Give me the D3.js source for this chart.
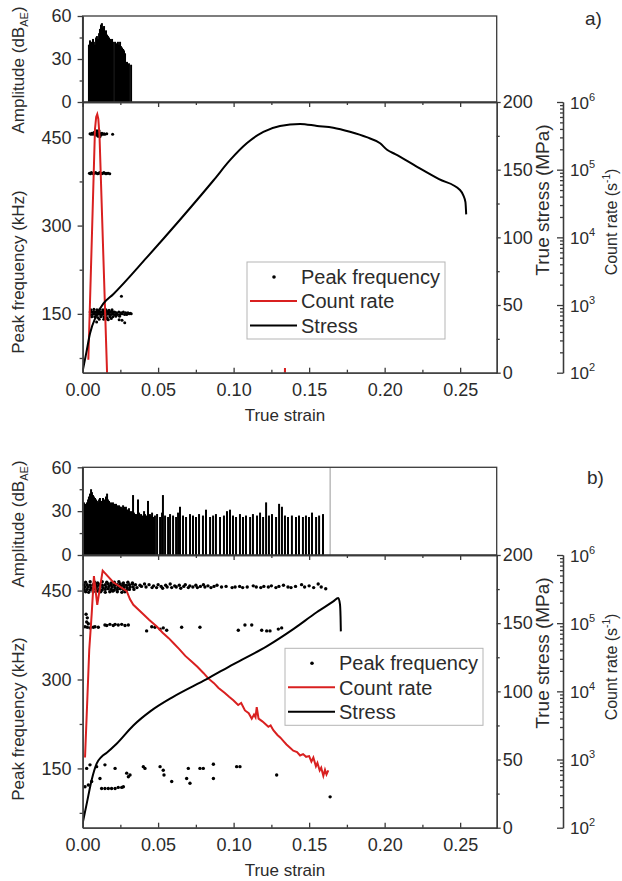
<!DOCTYPE html>
<html>
<head>
<meta charset="utf-8">
<script src="https://cdn.jsdelivr.net/npm/d3@7"></script>
<style>
body { margin: 0; background: #fff; }
</style>
</head>
<body>
<div id="chart"></div>
<script>
// Axis ticks
var strainTicks = [0, 0.05, 0.10, 0.15, 0.20, 0.25];
var strainMinor = [0.025, 0.075, 0.125, 0.175, 0.225];
var freqTicks = [150, 300, 450];
var freqMinor = [75, 225, 375];
var stressTicks = [0, 50, 100, 150, 200];
var stressMinor = [25, 75, 125, 175];
var ampTicks = [0, 30, 60];
var ampMinor = [15, 45];
var countTicks = [1e2, 1e3, 1e4, 1e5, 1e6];
var legendLabels = ["Peak frequency", "Count rate", "Stress"];

// a) amplitude hits [true strain, dB_AE]
var ampA = [
  [0.0042, 40], [0.0049, 43], [0.0056, 42], [0.0062, 41], [0.0069, 44], [0.0075, 42],
  [0.0082, 40], [0.0089, 45], [0.0095, 46], [0.0102, 44], [0.0109, 48], [0.0115, 51],
  [0.0122, 54], [0.0128, 55], [0.0135, 52], [0.0142, 53], [0.0148, 49], [0.0155, 50],
  [0.0162, 47], [0.0168, 46], [0.0175, 45], [0.0182, 44], [0.0188, 43], [0.0195, 44],
  [0.0201, 42], [0.0215, 42], [0.0221, 41], [0.0228, 40], [0.0234, 42], [0.0241, 40],
  [0.0248, 42], [0.0254, 39], [0.0261, 38], [0.0268, 37], [0.0274, 36], [0.0281, 34],
  [0.0294, 28], [0.0307, 27], [0.0321, 26]
];

// a) peak frequency [true strain, kHz]
var freqA = [
  [0.0049, 456], [0.0056, 455], [0.0062, 457], [0.0069, 455], [0.0075, 458], [0.0082, 456], [0.0089, 454],
  [0.0095, 457], [0.0095, 461], [0.0102, 455], [0.0102, 452], [0.0109, 458], [0.0109, 461], [0.0115, 456],
  [0.0115, 451], [0.0122, 454], [0.0128, 457], [0.0135, 455], [0.0142, 456], [0.0148, 455], [0.0160, 456], [0.0199, 455],
  [0.0045, 389], [0.0052, 388], [0.0058, 390], [0.0065, 389], [0.0072, 388], [0.0079, 389], [0.0086, 390],
  [0.0093, 389], [0.0100, 388], [0.0107, 389], [0.0113, 390], [0.0120, 389], [0.0127, 388], [0.0134, 389],
  [0.0141, 390], [0.0148, 389], [0.0155, 388], [0.0162, 389], [0.0170, 389], [0.0180, 388],
  [0.0055, 157], [0.0075, 158], [0.0095, 157], [0.0115, 158], [0.0135, 157], [0.0155, 157], [0.0175, 156], [0.0195, 157],
  [0.0050, 153], [0.0062, 153], [0.0072, 154], [0.0082, 153], [0.0092, 153], [0.0102, 154], [0.0112, 153], [0.0122, 153],
  [0.0132, 154], [0.0142, 153], [0.0152, 153], [0.0162, 154], [0.0172, 153], [0.0182, 153], [0.0192, 154], [0.0202, 153],
  [0.0212, 153], [0.0225, 152], [0.0240, 153], [0.0255, 152], [0.0270, 153], [0.0285, 152], [0.0300, 152], [0.0315, 151],
  [0.0052, 149], [0.0065, 149], [0.0077, 150], [0.0088, 149], [0.0098, 149], [0.0108, 150], [0.0118, 149], [0.0128, 149],
  [0.0138, 150], [0.0148, 149], [0.0158, 149], [0.0168, 150], [0.0178, 149], [0.0188, 149], [0.0198, 150], [0.0208, 149],
  [0.0218, 149], [0.0232, 149], [0.0248, 149], [0.0262, 150], [0.0278, 149], [0.0292, 149], [0.0308, 150], [0.0322, 150],
  [0.0060, 145], [0.0080, 145], [0.0100, 144], [0.0120, 145], [0.0140, 145], [0.0160, 144], [0.0180, 145], [0.0200, 145],
  [0.0220, 146], [0.0245, 146], [0.0110, 141], [0.0140, 141], [0.0165, 141], [0.0190, 142],
  [0.0257, 180], [0.0093, 136], [0.0242, 140], [0.0261, 139], [0.0279, 135], [0.0170, 140]
];

// a) log10 of count rate (s^-1), null = gap
var countA = [
  [0.0038, 2.19], [0.0082, 5.6], [0.0090, 5.78], [0.0097, 5.82], [0.0104, 5.75], [0.0112, 5.5],
  [0.0162, 2.0], [0.0166, 1.7], null, [0.1338, 1.8], [0.1340, 2.07], [0.1342, 1.8]
];

// a) true stress (MPa)
var stressA = [
  [0, 1], [0.0025, 15], [0.0049, 29], [0.0090, 42], [0.0137, 51], [0.0203, 58], [0.0424, 85],
  [0.0645, 113], [0.0866, 142], [0.0976, 157], [0.1087, 169.5], [0.1197, 178], [0.1307, 182.3],
  [0.1440, 183.8], [0.1553, 182.3], [0.1660, 181], [0.1770, 178], [0.1881, 174], [0.1970, 169.5],
  [0.2018, 164.5], [0.2070, 161.5], [0.2212, 152.3], [0.2360, 143], [0.2499, 135], [0.2521, 131],
  [0.2535, 126], [0.2540, 117]
];

// b) amplitude hits [true strain, dB_AE]
var ampB = [
  [0.0009, 36], [0.0016, 35], [0.0023, 34], [0.0029, 36], [0.0036, 38], [0.0042, 40], [0.0049, 42],
  [0.0056, 45], [0.0062, 43], [0.0069, 41], [0.0075, 40], [0.0082, 39], [0.0089, 38], [0.0095, 37],
  [0.0102, 36], [0.0109, 38], [0.0115, 39], [0.0122, 37], [0.0128, 36], [0.0135, 39], [0.0142, 38],
  [0.0148, 37], [0.0155, 40], [0.0162, 42], [0.0168, 38], [0.0175, 37], [0.0182, 35], [0.0188, 36],
  [0.0195, 35], [0.0201, 36], [0.0208, 35], [0.0215, 34], [0.0221, 35], [0.0228, 34], [0.0234, 33],
  [0.0241, 34], [0.0248, 33], [0.0254, 33], [0.0261, 32], [0.0268, 34], [0.0274, 33], [0.0281, 32],
  [0.0287, 33], [0.0294, 31], [0.0301, 31], [0.0307, 32], [0.0314, 30], [0.0321, 29], [0.0327, 30],
  [0.0334, 41], [0.0340, 29], [0.0347, 28],
  [0.0354, 28], [0.0360, 27], [0.0367, 38], [0.0374, 29], [0.0380, 27], [0.0387, 28], [0.0393, 26],
  [0.0400, 27], [0.0407, 30], [0.0413, 28], [0.0420, 27], [0.0426, 26], [0.0433, 37], [0.0440, 27],
  [0.0446, 28], [0.0453, 27], [0.0460, 29], [0.0466, 26],
  [0.0479, 27], [0.0493, 28], [0.0513, 26], [0.0526, 29], [0.0532, 41], [0.0546, 27], [0.0566, 26],
  [0.0579, 28], [0.0599, 27], [0.0619, 26], [0.0632, 29], [0.0645, 33], [0.0665, 27], [0.0685, 26],
  [0.0711, 28], [0.0731, 27], [0.0751, 26], [0.0771, 28], [0.0797, 27], [0.0817, 31], [0.0844, 26],
  [0.0864, 27], [0.0883, 28], [0.0910, 26], [0.0936, 27], [0.0956, 30], [0.0976, 31], [0.0996, 27],
  [0.1016, 26], [0.1042, 28], [0.1062, 26], [0.1082, 27], [0.1109, 26], [0.1128, 28], [0.1155, 27],
  [0.1175, 29], [0.1195, 26], [0.1215, 36], [0.1234, 27], [0.1254, 28], [0.1281, 26], [0.1301, 35],
  [0.1320, 33], [0.1340, 27], [0.1360, 26], [0.1386, 27], [0.1413, 26], [0.1433, 27], [0.1459, 26],
  [0.1479, 27], [0.1499, 26], [0.1519, 29], [0.1546, 26], [0.1566, 27], [0.1592, 28]
];
var fractureB = 0.1639;

// b) peak frequency [true strain, kHz]
var freqB = [
  [0.002, 464], [0.005, 465], [0.008, 464], [0.010, 463], [0.013, 465], [0.016, 464], [0.019, 463],
  [0.021, 464], [0.024, 465], [0.027, 463], [0.030, 464], [0.033, 463],
  [0.001, 460], [0.003, 460], [0.005, 459], [0.007, 460], [0.009, 461], [0.011, 460], [0.013, 459],
  [0.015, 460], [0.017, 461], [0.019, 460], [0.021, 459], [0.023, 460], [0.025, 461], [0.027, 460],
  [0.029, 459], [0.031, 460], [0.033, 461], [0.035, 460], [0.038, 459], [0.041, 461], [0.044, 460],
  [0.0015, 456], [0.0035, 456], [0.0055, 455], [0.0075, 456], [0.0095, 457], [0.0115, 456], [0.0135, 455],
  [0.0155, 456], [0.0175, 457], [0.0195, 456], [0.0215, 455], [0.0235, 456], [0.0255, 457], [0.0275, 456],
  [0.0295, 455], [0.0315, 456], [0.0335, 456], [0.036, 455], [0.039, 457], [0.042, 456], [0.046, 455],
  [0.001, 452], [0.003, 452], [0.005, 451], [0.007, 452], [0.009, 453], [0.011, 452], [0.013, 451],
  [0.015, 452], [0.017, 453], [0.019, 452], [0.021, 451], [0.023, 452], [0.025, 453], [0.027, 452],
  [0.029, 451], [0.031, 452], [0.034, 452],
  [0.002, 448], [0.004, 447], [0.007, 448], [0.010, 449], [0.012, 448], [0.015, 447], [0.018, 448],
  [0.020, 449], [0.023, 448], [0.026, 447], [0.028, 448],
  [0.047, 458], [0.049, 455], [0.050, 460], [0.052, 457], [0.053, 454], [0.055, 459], [0.056, 456],
  [0.058, 461], [0.059, 455], [0.061, 458], [0.062, 456], [0.064, 459], [0.065, 454], [0.067, 457],
  [0.068, 460], [0.070, 455], [0.071, 458], [0.073, 456], [0.075, 459], [0.076, 455], [0.078, 457],
  [0.080, 460], [0.081, 456], [0.083, 458], [0.085, 455], [0.087, 457], [0.089, 459],
  [0.092, 456], [0.095, 457], [0.099, 455], [0.101, 456], [0.104, 457], [0.106, 455], [0.109, 456],
  [0.113, 458], [0.115, 456], [0.118, 455], [0.120, 457], [0.123, 456], [0.125, 458], [0.128, 455],
  [0.130, 457], [0.133, 459], [0.136, 456], [0.138, 455], [0.141, 457], [0.145, 460], [0.147, 456],
  [0.150, 458], [0.153, 455], [0.156, 461], [0.158, 456], [0.161, 453],
  [0.0016, 389], [0.0031, 388], [0.0049, 387], [0.0071, 388], [0.0082, 389], [0.0104, 388], [0.0148, 392],
  [0.0160, 391], [0.0181, 393], [0.0203, 391], [0.0215, 393], [0.0236, 392], [0.0259, 393], [0.0281, 391],
  [0.0303, 392], [0.0424, 382], [0.0458, 389], [0.0479, 388], [0.0513, 385], [0.0534, 387], [0.0557, 383],
  [0.0656, 388], [0.0777, 388], [0.1031, 383], [0.1075, 392], [0.1120, 392], [0.1186, 383], [0.1219, 382],
  [0.1241, 382], [0.1296, 385], [0.1318, 387],
  [0.0023, 410], [0.0031, 404], [0.0027, 397], [0.0038, 394],
  [0.0027, 150], [0.0049, 156], [0.0093, 153], [0.0148, 156], [0.0215, 150], [0.0292, 142], [0.0303, 136],
  [0.0314, 139], [0.0402, 153], [0.0413, 150], [0.0513, 153], [0.0534, 147], [0.0539, 139], [0.0590, 128],
  [0.0700, 150], [0.0689, 133], [0.0711, 125], [0.0777, 150], [0.0799, 150], [0.0866, 157], [0.0866, 133],
  [0.1020, 153], [0.1042, 153], [0.1285, 139],
  [0.0016, 119], [0.0038, 122], [0.0060, 128], [0.0115, 133], [0.0126, 116], [0.0148, 116], [0.0170, 116],
  [0.0192, 116], [0.0215, 116], [0.0236, 118], [0.0259, 118], [0.0270, 119],
  [0.1639, 102]
];

// b) log10 of count rate (s^-1)
var countB = [
  [0.0016, 3.03], [0.0031, 3.87], [0.0044, 4.61], [0.0060, 5.13], [0.0075, 5.69], [0.0097, 5.27],
  [0.0133, 5.77], [0.0203, 5.60], [0.0292, 5.47], [0.0314, 5.35], [0.0336, 5.27], [0.0402, 5.13],
  [0.0440, 5.05], [0.0491, 4.95], [0.0530, 4.86], [0.0570, 4.78], [0.0601, 4.71], [0.0640, 4.62],
  [0.0680, 4.52], [0.0720, 4.44], [0.0760, 4.36], [0.0800, 4.27], [0.0832, 4.19], [0.0870, 4.12],
  [0.0900, 4.05], [0.0940, 3.98], [0.0970, 3.92], [0.0998, 3.87], [0.1030, 3.80], [0.1050, 3.83],
  [0.1075, 3.72], [0.1100, 3.68], [0.1120, 3.60], [0.1135, 3.66], [0.1145, 3.62], [0.1153, 3.77],
  [0.1165, 3.60], [0.1190, 3.56], [0.1210, 3.52], [0.1230, 3.48], [0.1245, 3.50], [0.1263, 3.43],
  [0.1290, 3.36], [0.1310, 3.32], [0.1330, 3.27], [0.1350, 3.22], [0.1370, 3.18], [0.1395, 3.13],
  [0.1420, 3.11], [0.1440, 3.06], [0.1460, 3.08], [0.1480, 3.04], [0.1500, 3.05], [0.1515, 2.97],
  [0.1528, 3.03], [0.1545, 2.90], [0.1555, 2.95], [0.1570, 2.84], [0.1580, 2.88], [0.1594, 2.76],
  [0.1605, 2.85], [0.1615, 2.78], [0.1627, 2.84]
];

// b) true stress (MPa)
var stressB = [
  [0, 3], [0.0028, 18], [0.0060, 35], [0.0093, 47], [0.0125, 52], [0.0160, 55], [0.0220, 61],
  [0.0336, 75], [0.0450, 85.5], [0.0600, 96], [0.0822, 109], [0.1000, 120], [0.1219, 133],
  [0.1400, 146], [0.1550, 158], [0.1660, 166], [0.1693, 168.5], [0.1704, 164], [0.1708, 155],
  [0.1710, 144]
];

var width = 622, height = 881;
var font = "'Liberation Sans', Arial, Helvetica, sans-serif";
var axisColor = "#3a3a3a", textColor = "#2b2b2b";
var left = 82.6, right = 496.7, countX = 563;

var svg = d3.select("#chart").append("svg")
    .attr("width", width)
    .attr("height", height)
    .style("font-family", font);

var x = d3.scaleLinear().domain([0, 0.2742]).range([left, right]);

var panels = [
    {id: "a", label: "a)", labelX: 585, labelY: 25, top: 16, mid: 102, bottom: 372.7,
     amp: ampA, freq: freqA, count: countA, stress: stressA, fracture: null, dotR: 1.5,
     legend: [247, 262], ampTitleY: 70, freqTitleY: 272, stressTitleY: 200, countTitleY: 222},
    {id: "b", label: "b)", labelX: 587, labelY: 484, top: 467.3, mid: 555, bottom: 827.7,
     amp: ampB, freq: freqB, count: countB, stress: stressB, fracture: fractureB, dotR: 1.7,
     legend: [285, 648.3], ampTitleY: 524, freqTitleY: 719, stressTitleY: 653, countTitleY: 667}
];

function styleAxis(g) {
    g.attr("font-family", font).attr("font-size", 18);
    g.selectAll("path, line").attr("stroke", axisColor).attr("stroke-width", 1.3);
    g.selectAll("text").attr("fill", textColor);
}

function drawPanel(p) {
    var g = svg.append("g").attr("class", "panel_" + p.id);

    var yAmp = d3.scaleLinear().domain([0, 60]).range([p.mid, p.top]);
    var yFreq = d3.scaleLinear().domain([50, 510]).range([p.bottom, p.mid]);
    var yStress = d3.scaleLinear().domain([0, 200]).range([p.bottom, p.mid]);
    var yCount = d3.scaleLog().domain([1e2, 1e6]).range([p.bottom, p.mid]);

    // Clip for the lower plot
    svg.append("clipPath").attr("id", "clip_" + p.id)
        .append("rect")
        .attr("x", left).attr("y", p.mid)
        .attr("width", right - left).attr("height", p.bottom - p.mid);

    // Amplitude bars
    g.append("g").selectAll("line")
        .data(p.amp)
        .enter().append("line")
        .attr("x1", function(d) { return x(d[0]); })
        .attr("x2", function(d) { return x(d[0]); })
        .attr("y1", yAmp(0))
        .attr("y2", function(d) { return yAmp(d[1]); })
        .attr("stroke", "#000")
        .attr("stroke-width", 2);

    if (p.fracture != null) {
        g.append("line")
            .attr("x1", x(p.fracture)).attr("x2", x(p.fracture))
            .attr("y1", yAmp(0)).attr("y2", yAmp(60))
            .attr("stroke", "#999").attr("stroke-width", 1);
    }

    // Amplitude frame
    g.append("rect")
        .attr("x", left).attr("y", p.top)
        .attr("width", right - left).attr("height", p.mid - p.top)
        .attr("fill", "none").attr("stroke", axisColor).attr("stroke-width", 1.3);

    var plot = g.append("g").attr("clip-path", "url(#clip_" + p.id + ")");

    // Peak frequency points
    plot.append("g").selectAll("circle")
        .data(p.freq)
        .enter().append("circle")
        .attr("cx", function(d) { return x(d[0]); })
        .attr("cy", function(d) { return yFreq(d[1]); })
        .attr("r", p.dotR)
        .attr("fill", "#000");

    // Count rate
    var countLine = d3.line()
        .defined(function(d) { return d != null; })
        .x(function(d) { return x(d[0]); })
        .y(function(d) { return yCount(Math.pow(10, d[1])); });
    plot.append("path")
        .datum(p.count)
        .attr("d", countLine)
        .attr("fill", "none")
        .attr("stroke", "#d92020")
        .attr("stroke-width", 2);

    // Stress
    var stressLine = d3.line()
        .curve(d3.curveMonotoneX)
        .x(function(d) { return x(d[0]); })
        .y(function(d) { return yStress(d[1]); });
    plot.append("path")
        .datum(p.stress)
        .attr("d", stressLine)
        .attr("fill", "none")
        .attr("stroke", "#000")
        .attr("stroke-width", 2);

    // Bottom axis, ticks inward
    g.append("g").attr("transform", "translate(0," + p.bottom + ")")
        .call(d3.axisBottom(x).tickValues(strainTicks).tickSize(-5).tickSizeOuter(0)
            .tickPadding(11).tickFormat(d3.format(".2f")))
        .call(styleAxis);
    g.append("g").attr("transform", "translate(0," + p.bottom + ")")
        .call(d3.axisBottom(x).tickValues(strainMinor).tickSize(-3).tickSizeOuter(0).tickFormat(""))
        .call(styleAxis);

    // Top ticks of the lower plot
    g.append("g").attr("transform", "translate(0," + p.mid + ")")
        .call(d3.axisTop(x).tickValues(strainTicks).tickSize(-5).tickSizeOuter(0).tickFormat(""))
        .call(styleAxis);
    g.append("g").attr("transform", "translate(0," + p.mid + ")")
        .call(d3.axisTop(x).tickValues(strainMinor).tickSize(-3).tickSizeOuter(0).tickFormat(""))
        .call(styleAxis);

    // Left axes
    g.append("g").attr("transform", "translate(" + left + ",0)")
        .call(d3.axisLeft(yFreq).tickValues(freqTicks).tickSize(5).tickSizeOuter(0).tickPadding(6))
        .call(styleAxis);
    g.append("g").attr("transform", "translate(" + left + ",0)")
        .call(d3.axisLeft(yFreq).tickValues(freqMinor).tickSize(3).tickSizeOuter(0).tickFormat(""))
        .call(styleAxis);
    g.append("g").attr("transform", "translate(" + left + ",0)")
        .call(d3.axisLeft(yAmp).tickValues(ampTicks).tickSize(5).tickSizeOuter(0).tickPadding(6))
        .call(styleAxis);
    g.append("g").attr("transform", "translate(" + left + ",0)")
        .call(d3.axisLeft(yAmp).tickValues(ampMinor).tickSize(3).tickSizeOuter(0).tickFormat(""))
        .call(styleAxis);

    // Stress axis
    g.append("g").attr("transform", "translate(" + right + ",0)")
        .call(d3.axisRight(yStress).tickValues(stressTicks).tickSize(4).tickSizeOuter(0).tickPadding(2))
        .call(styleAxis);
    g.append("g").attr("transform", "translate(" + right + ",0)")
        .call(d3.axisRight(yStress).tickValues(stressMinor).tickSize(3).tickSizeOuter(0).tickFormat(""))
        .call(styleAxis);

    // Count rate axis (log)
    var countMinor = yCount.ticks().filter(function(d) {
        return countTicks.indexOf(d) < 0;
    });
    var cAxis = g.append("g").attr("transform", "translate(" + countX + ",0)")
        .call(d3.axisRight(yCount).tickValues(countTicks).tickSize(-6).tickSizeOuter(0).tickFormat(""))
        .call(styleAxis);
    g.append("g").attr("transform", "translate(" + countX + ",0)")
        .call(d3.axisRight(yCount).tickValues(countMinor).tickSize(-3).tickSizeOuter(0).tickFormat(""))
        .call(styleAxis);
    cAxis.selectAll(".tick").each(function(d) {
        var t = d3.select(this).append("text")
            .attr("x", 7).attr("dy", "0.36em")
            .attr("fill", textColor).attr("font-size", 17)
            .attr("text-anchor", "start");
        t.append("tspan").text("10");
        t.append("tspan").attr("dy", -8).attr("font-size", 11).text(Math.round(Math.log10(d)));
    });

    // Axis titles
    var ampTitle = g.append("text")
        .attr("transform", "translate(24," + p.ampTitleY + ") rotate(-90)")
        .attr("text-anchor", "middle").attr("font-size", 17).attr("fill", textColor);
    ampTitle.append("tspan").text("Amplitude (dB");
    ampTitle.append("tspan").attr("font-size", 11).attr("dy", 4).text("AE");
    ampTitle.append("tspan").attr("dy", -4).text(")");

    g.append("text")
        .attr("transform", "translate(24," + p.freqTitleY + ") rotate(-90)")
        .attr("text-anchor", "middle").attr("font-size", 17).attr("fill", textColor)
        .text("Peak frequency (kHz)");

    g.append("text")
        .attr("transform", "translate(549," + p.stressTitleY + ") rotate(-90)")
        .attr("text-anchor", "middle").attr("font-size", 19).attr("fill", textColor)
        .text("True stress (MPa)");

    var countTitle = g.append("text")
        .attr("transform", "translate(617," + p.countTitleY + ") rotate(-90)")
        .attr("text-anchor", "middle").attr("font-size", 16).attr("fill", textColor);
    countTitle.append("tspan").text("Count rate (s");
    countTitle.append("tspan").attr("font-size", 10).attr("dy", -7).text("-1");
    countTitle.append("tspan").attr("dy", 7).text(")");

    g.append("text")
        .attr("x", 285).attr("y", p.bottom + 48)
        .attr("text-anchor", "middle").attr("font-size", 17).attr("fill", textColor)
        .text("True strain");

    g.append("text")
        .attr("x", p.labelX).attr("y", p.labelY)
        .attr("font-size", 19).attr("fill", textColor)
        .text(p.label);

    // Legend
    var lg = g.append("g").attr("transform", "translate(" + p.legend[0] + "," + p.legend[1] + ")");
    lg.append("rect")
        .attr("width", 198).attr("height", 77)
        .attr("fill", "#fff").attr("stroke", "#b5b5b5").attr("stroke-width", 1);
    lg.append("circle").attr("cx", 27).attr("cy", 15).attr("r", 1.8).attr("fill", "#000");
    lg.append("line").attr("x1", 3).attr("x2", 50).attr("y1", 39).attr("y2", 39)
        .attr("stroke", "#d92020").attr("stroke-width", 2);
    lg.append("line").attr("x1", 3).attr("x2", 50).attr("y1", 63.5).attr("y2", 63.5)
        .attr("stroke", "#000").attr("stroke-width", 2);
    lg.selectAll(".legend_text")
        .data(legendLabels)
        .enter().append("text")
        .attr("class", "legend_text")
        .attr("x", 54)
        .attr("y", function(d, i) { return 21.5 + i * 24.8; })
        .attr("font-size", 20).attr("fill", textColor)
        .text(function(d) { return d; });
}

panels.forEach(drawPanel);
</script>
</body>
</html>
